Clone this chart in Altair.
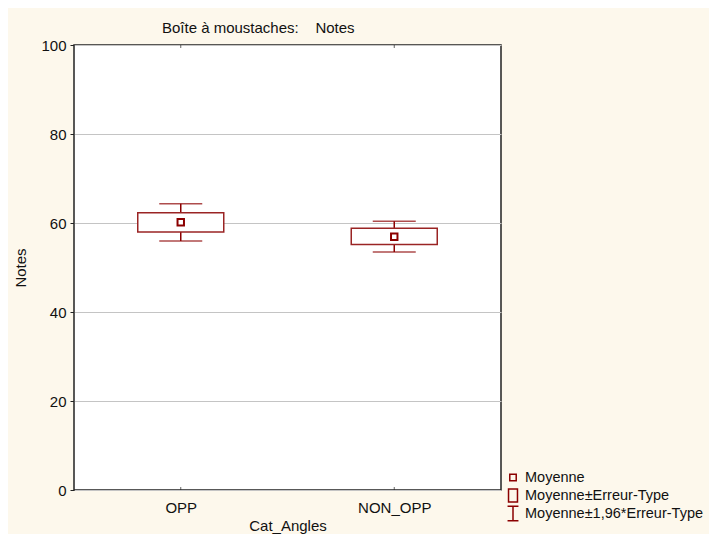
import altair as alt
import pandas as pd

categories = ["OPP", "NON_OPP"]
means = [60.15, 56.9]
box_low = [58.0, 55.15]
box_high = [62.3, 58.8]
whisker_low = [55.95, 53.5]
whisker_high = [64.35, 60.4]
legend_labels = ["Moyenne", "Moyenne±Erreur-Type", "Moyenne±1,96*Erreur-Type"]
y_ticks = [0, 20, 40, 60, 80, 100]

df = pd.DataFrame({
    "cat": categories,
    "mean": means,
    "blo": box_low,
    "bhi": box_high,
    "wlo": whisker_low,
    "whi": whisker_high,
    "leg": [legend_labels[0]] * len(categories),
})

RED = "#8B0000"
BOXRED = "#9A2424"
TXT = "#111111"
FONT = "Liberation Sans"

SQ = "M-0.46,-0.46H0.46V0.46H-0.46Z"
RECT = "M-0.64,-0.93H0.64V0.93H-0.64Z"
IBEAM = "M-0.78,-1.05H0.78M0,-1.05V1.05M-0.78,1.05H0.78"

xenc = alt.X(
    "cat:N", sort=categories,
    scale=alt.Scale(type="point", padding=0.5),
    axis=alt.Axis(title="Cat_Angles", labelAngle=0, ticks=False, domain=False,
                  labelPadding=10, titlePadding=3, labelFontSize=15,
                  titleFontSize=15, titleFontWeight="normal",
                  labelColor=TXT, titleColor=TXT, labelFont=FONT, titleFont=FONT),
)
yscale = alt.Scale(domain=[0, 100], nice=False, zero=True)
yaxis = alt.Axis(title="Notes", values=y_ticks, grid=True, gridColor="#C4C4C4",
                 gridWidth=1, tickSize=4, tickColor="#222222", domain=False,
                 labelFontSize=15, titleFontSize=15, titleFontWeight="normal",
                 labelPadding=4, titlePadding=12, labelColor=TXT, titleColor=TXT,
                 labelFont=FONT, titleFont=FONT)


def yenc(field):
    return alt.Y(field, scale=yscale, axis=yaxis)


base = alt.Chart(df)

whisk = base.mark_rule(color=RED, strokeWidth=1.5).encode(
    x=xenc, y=yenc("wlo:Q"), y2="whi:Q")

box = base.mark_bar(size=86, fill="white", stroke=BOXRED, strokeWidth=1.5).encode(
    x=xenc, y=yenc("blo:Q"), y2="bhi:Q")

cap_lo = base.mark_tick(size=43, thickness=1.5, color=RED).encode(
    x=xenc, y=yenc("wlo:Q"))
cap_hi = base.mark_tick(size=43, thickness=1.5, color=RED).encode(
    x=xenc, y=yenc("whi:Q"))

inner_tick_bottom = base.mark_tick(orient="vertical", size=3, thickness=1,
                                   color="#222222", yOffset=-1.5).encode(
    x=xenc, y=alt.datum(0))
inner_tick_top = base.mark_tick(orient="vertical", size=3, thickness=1,
                                color="#222222", yOffset=1.5).encode(
    x=xenc, y=alt.datum(100))

mean_pts = base.mark_point(filled=False, stroke=RED, strokeWidth=2, size=196,
                           opacity=1).encode(
    x=xenc, y=yenc("mean:Q"),
    shape=alt.Shape(
        "leg:N",
        scale=alt.Scale(domain=legend_labels, range=[SQ, RECT, IBEAM]),
        legend=alt.Legend(title=None, orient="none", legendX=431, legendY=424,
                          labelFontSize=14.5, labelFont=FONT, labelColor=TXT,
                          labelLimit=300, clipHeight=17,
                          symbolSize=196, symbolStrokeColor=RED,
                          symbolFillColor="transparent", symbolStrokeWidth=1.5,
                          labelOffset=4, rowPadding=1, padding=0),
    ),
)

chart = alt.layer(
    whisk, box, cap_lo, cap_hi, inner_tick_bottom, inner_tick_top, mean_pts
).properties(
    width=427,
    height=445,
    autosize=alt.AutoSizeParams(type="none"),
    padding={"left": 66, "top": 37, "right": 208, "bottom": 44},
    title=alt.TitleParams(
        text="Boîte à moustaches:\u00a0\u00a0\u00a0\u00a0Notes",
        anchor="start", dx=148, dy=23, offset=13, baseline="alphabetic",
        fontSize=15, fontWeight="normal", color=TXT, font=FONT,
    ),
).configure(
    background="#FDF8EC",
).configure_view(
    fill="white", stroke="#222222", strokeWidth=1.5,
)

chart.save("out.html", embed_options={"renderer": "svg", "actions": False})
